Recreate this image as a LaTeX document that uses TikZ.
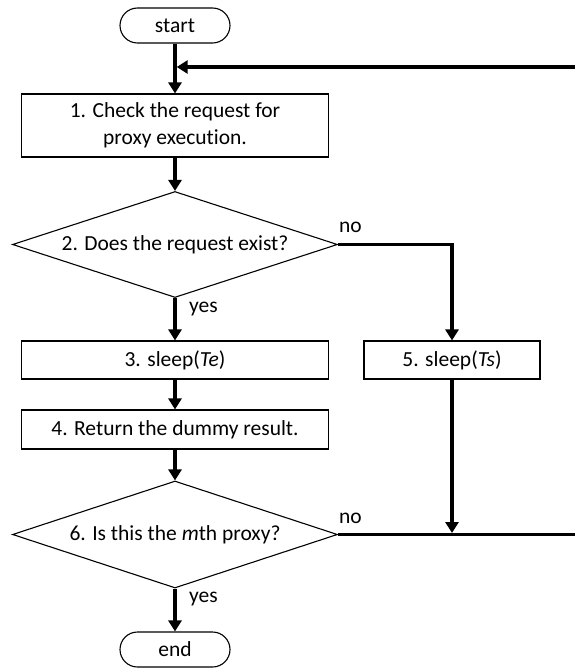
\documentclass[tikz,border=0pt]{standalone}
\usepackage{fontspec}
\setmainfont{Carlito}[Ligatures=NoCommon]
\usetikzlibrary{arrows.meta,shapes.geometric}
\tikzset{
    TE1/.style ={rectangle,rounded corners=17.5pt,minimum width=110pt,minimum height=35pt,draw=black,line width=1.1pt},
    RA1/.style ={rectangle,minimum width=307pt,minimum height=38pt,draw=black,line width=1.1pt,align=center},
    RA2/.style ={rectangle,minimum width=176pt,minimum height=38pt,draw=black,line width=1.1pt},
    DI1/.style ={diamond,aspect=3.07,inner sep=0pt,minimum width=325pt,minimum height=106pt,draw=black,line width=1.1pt},
    flow/.style ={line width=3.4pt,-{Triangle[length=11pt,width=13pt]}},
    flat/.style ={line width=3.4pt},
    answer/.style ={inner sep=0pt,anchor=base west}
}

\begin{document}
\begin{tikzpicture}[x=1pt,y=-1pt,every node/.append style={font=\fontsize{21.5pt}{26.5pt}\selectfont}]
        \useasboundingbox (0,0) rectangle (575,669);
        \node[TE1] (start) at (175,25.5) {start};
        \node[RA1,minimum height=63pt] (check) at (175,125.5) {1. Check the request for\\proxy execution.};
        \node[DI1] (exist) at (175,244.5) {2. Does the request exist?};
        \node[RA1] (sleepe) at (175,360) {3. sleep(\textit{Te})};
        \node[RA2] (sleeps) at (452,360) {5. sleep(\textit{Ts})};
        \node[RA1,minimum height=39pt] (dummy) at (175,429.5) {4. Return the dummy result.};
        \node[DI1,minimum height=107pt] (mth) at (175,534.5) {6. Is this the \textit{m}th proxy?};
        \node[TE1] (end) at (175,649.5) {end};
        % answers
        \node[answer] (no1) at (339,232) {no};
        \node[answer] (yes1) at (189,312) {yes};
        \node[answer] (no2) at (339,523) {no};
        \node[answer] (yes2) at (189,602) {yes};
        % loop ends
        \coordinate (loopin) at (575,67);
        \coordinate (loopout) at (575,534.5);
        \coordinate (join) at (176.7,67);
        \coordinate (merge) at (452,533);
        % connectors
        \draw[flow] (start) -- (check);
        \draw[flow] (loopin) -- (join);
        \draw[flow] (check) -- (exist);
        \draw[flow] (exist.south) -- (sleepe);
        \draw[flow] (exist.east) -| (sleeps.north);
        \draw[flow] (sleepe) -- (dummy);
        \draw[flow] (dummy) -- (mth.north);
        \draw[flat] (mth.east) -- (loopout);
        \draw[flow] (sleeps) -- (merge);
        \draw[flow] (mth.south) -- (end);
\end{tikzpicture}
\end{document}
